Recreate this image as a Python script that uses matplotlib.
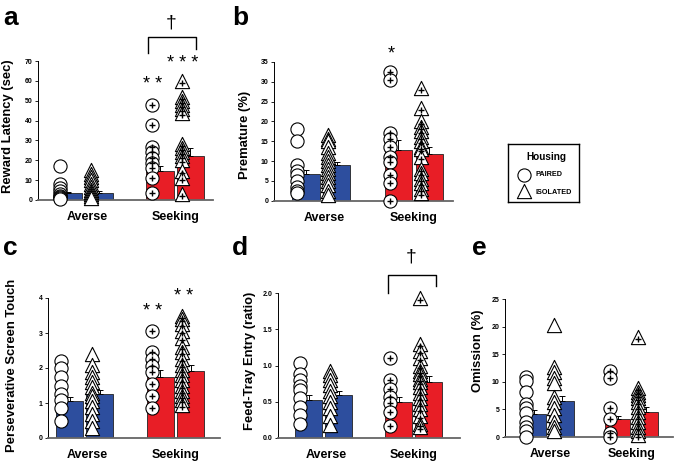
import numpy as np
import matplotlib.pyplot as plt

plt.rcParams["font.family"] = ["Liberation Sans", "DejaVu Sans"]

W, H = 675, 466

groups = ["Averse", "Seeking"]
bar_pos = [0, 1, 3, 4]          # paired/isolated averse, paired/isolated seeking
bar_colors = ["#2D4E9E", "#2D4E9E", "#E81E26", "#E81E26"]

# ---- panel a: reward latency (sec)
a_means = [3.5, 3.7, 14.6, 22.1]
a_sems = [0.7, 0.6, 2.7, 3.9]
a_points = [
    [17, 8, 6, 4.5, 3, 2, 1.5, 1, 0.5],
    [15, 13, 11.5, 10, 8, 6.5, 5, 4, 3, 2, 1],
    [48, 38, 26.5, 24, 21, 18.5, 16, 11, 3.5],
    [60, 52, 50, 48, 46, 44, 28, 26, 24, 22, 20, 14.5, 11, 3],
]

# ---- panel b: premature (%)
b_means = [6.8, 8.9, 12.9, 11.8]
b_sems = [0.9, 0.9, 2.4, 1.8]
b_points = [
    [18, 15, 9, 7.5, 6.5, 5, 3.5, 2.5, 2],
    [16.5, 15.5, 15, 13.5, 12, 11, 10, 9, 8, 7, 6, 5, 4, 2.5, 1.5],
    [32.5, 30.5, 17, 15.5, 13.5, 11, 9.8, 6.5, 4.5, 0],
    [28.5, 23.5, 20, 18.5, 17.5, 16, 15, 13.5, 13, 11, 8, 7, 5.5, 4.5, 3, 2],
]

# ---- panel c: perseverative screen touch
c_means = [1.07, 1.27, 1.74, 1.91]
c_sems = [0.1, 0.1, 0.2, 0.19]
c_points = [
    [2.2, 2.0, 1.75, 1.5, 1.25, 1.1, 0.85, 0.5],
    [2.4, 2.1, 1.9, 1.75, 1.6, 1.45, 1.3, 1.2, 1.05, 0.9, 0.7, 0.5, 0.3],
    [3.05, 2.45, 2.25, 2.05, 1.9, 1.55, 1.2, 0.85],
    [3.5, 3.4, 3.25, 3.05, 2.85, 2.6, 2.45, 2.25, 2.1, 1.95, 1.8, 1.65, 1.5,
     1.35, 1.2, 1.1, 0.95],
]

# ---- panel d: feed-tray entry (ratio)
d_means = [0.53, 0.6, 0.5, 0.77]
d_sems = [0.06, 0.05, 0.06, 0.08]
d_points = [
    [1.03, 0.88, 0.8, 0.72, 0.66, 0.55, 0.43, 0.32, 0.2],
    [0.92, 0.87, 0.8, 0.73, 0.65, 0.58, 0.5, 0.42, 0.3, 0.18],
    [1.1, 0.8, 0.68, 0.57, 0.48, 0.36, 0.16],
    [1.93, 1.3, 1.2, 1.1, 1.0, 0.93, 0.88, 0.82, 0.77, 0.7, 0.62, 0.55, 0.47,
     0.4, 0.3, 0.2, 0.15],
]

# ---- panel e: omission (%)
e_means = [4.1, 6.6, 3.3, 4.6]
e_sems = [0.8, 0.8, 0.5, 0.9]
e_points = [
    [10.8, 10.2, 8.2, 6, 5.3, 4.3, 2.8, 1.8, 1, 0],
    [20.3, 12.7, 11.8, 10.6, 9.7, 7.3, 6.4, 5.2, 4, 2.8, 1.9, 1],
    [12, 10.6, 5.2, 3.2, 0.7, 0],
    [18.2, 8.8, 8.2, 7.6, 7, 6.4, 5.5, 4.6, 3.7, 2.8, 1.9, 1, 0.4],
]

CIRCLE_S = 90
TRI_S = 105


def px_rect(left, right, top, bottom):
    return [left / W, 1 - bottom / H, (right - left) / W, (bottom - top) / H]


def panel(rect, xlim, ylim, yticks, fmt, means, sems, points, ylabel, lab_xy):
    ax = fig.add_axes(px_rect(*rect))
    ax.bar(bar_pos, means, width=0.9, color=bar_colors, edgecolor="#222222",
           linewidth=0.6, zorder=1)
    ax.errorbar(bar_pos, means, yerr=[[0] * 4, sems], fmt="none", ecolor="black",
                elinewidth=0.7, capsize=2, capthick=0.7, zorder=2)
    for i, vals in enumerate(points):
        xs = np.full(len(vals), bar_pos[i] - 0.27)
        mk = "o" if i % 2 == 0 else "^"
        ax.scatter(xs, vals, s=CIRCLE_S if mk == "o" else TRI_S, marker=mk,
                   facecolor="white", edgecolor="black", linewidth=0.8, zorder=3,
                   clip_on=False)
        if i >= 2:
            off = 0 if mk == "o" else -0.015 * (ylim[1] - ylim[0])
            ax.scatter(xs, np.array(vals) + off, s=16, marker="+", color="black",
                       linewidth=1.0, zorder=4, clip_on=False)
    ax.set_xlim(*xlim)
    ax.set_ylim(*ylim)
    ax.set_yticks(yticks)
    ax.set_yticklabels([fmt.format(t) for t in yticks], fontsize=5, fontweight="bold")
    ax.set_xticks([0.6, 3.5])
    ax.set_xticklabels(groups, fontsize=9, fontweight="bold")
    ax.tick_params(axis="x", length=0, pad=8)
    ax.tick_params(axis="y", length=2.5, width=0.6, pad=1.5, direction="out")
    for s in ["top", "right"]:
        ax.spines[s].set_visible(False)
    ax.spines["left"].set_linewidth(0.7)
    ax.spines["bottom"].set_linewidth(1.3)
    ax.spines["bottom"].set_color("#666666")
    fig.text(lab_xy[0] / W, 1 - lab_xy[1] / H, ylabel, rotation=90, ha="center",
             va="center", fontsize=9.4, fontweight="bold")
    return ax


def stars(ax, x, y, txt):
    ax.text(x, y, txt, ha="center", va="center", fontsize=13, clip_on=False)


def bracket(ax, x0, x1, ytop, yl, yr, ydag):
    ax.plot([x0, x0, x1, x1], [yl, ytop, ytop, yr], color="black", lw=1.0,
            clip_on=False)
    ax.text((x0 + x1) / 2 - 0.02, ydag, "\u2020", ha="center", va="center",
            fontsize=14, clip_on=False)


fig = plt.figure(figsize=(W / 100, H / 100), dpi=100)

ax_a = panel((38, 213, 61, 200), (-1.0, 4.74), (0, 70), range(0, 71, 10), "{:d}",
             a_means, a_sems, a_points, "Reward Latency (sec)", (8, 126))
stars(ax_a, 2.75, 58, "* *")
stars(ax_a, 3.75, 68.5, "* * *")
bracket(ax_a, 2.6, 4.18, 82, 74, 76, 89)

ax_b = panel((274, 453, 62, 200.7), (-1.02, 4.76), (0, 35), range(0, 36, 5), "{:d}",
             b_means, b_sems, b_points, "Premature (%)", (245, 135))
stars(ax_b, 2.75, 37, "*")

ax_c = panel((48, 220, 298, 438), (-0.71, 4.97), (0, 4), range(0, 5), "{:d}",
             c_means, c_sems, c_points, "Perseverative Screen Touch", (12, 365))
stars(ax_c, 2.75, 3.6, "* *")
stars(ax_c, 3.78, 4.05, "* *")

ax_d = panel((278, 460, 293, 438), (-1.02, 5.05), (0, 2), [0, 0.5, 1.0, 1.5, 2.0],
             "{:.1f}", d_means, d_sems, d_points, "Feed-Tray Entry (ratio)", (250, 361))
bracket(ax_d, 2.65, 4.25, 2.25, 2.0, 2.1, 2.5)

ax_e = panel((505, 673, 299, 437), (-1.02, 4.98), (0, 25), range(0, 26, 5), "{:d}",
             e_means, e_sems, e_points, "Omission (%)", (478, 351))

# panel letters
for lx, ly, letter in [(3, 25, "a"), (232, 25, "b"), (3, 255, "c"),
                       (232, 255, "d"), (472, 255, "e")]:
    fig.text(lx / W, 1 - ly / H, letter, fontsize=19, fontweight="bold",
             ha="left", va="baseline")

# legend box
lg = fig.add_axes(px_rect(508, 579, 144, 202))
lg.set_xlim(0, 71)
lg.set_ylim(58, 0)
lg.set_xticks([])
lg.set_yticks([])
for s in lg.spines.values():
    s.set_linewidth(1.0)
lg.text(38, 13, "Housing", ha="center", va="center", fontsize=7.2, fontweight="bold")
lg.scatter([16], [31], s=CIRCLE_S, marker="o", facecolor="white", edgecolor="black",
           linewidth=0.8)
lg.scatter([16], [47], s=TRI_S, marker="^", facecolor="white", edgecolor="black",
           linewidth=0.8)
lg.text(28, 31, "PAIRED", ha="left", va="center", fontsize=5.2, fontweight="bold")
lg.text(28, 48, "ISOLATED", ha="left", va="center", fontsize=5.2, fontweight="bold")

fig.savefig("out.png", dpi=100)
